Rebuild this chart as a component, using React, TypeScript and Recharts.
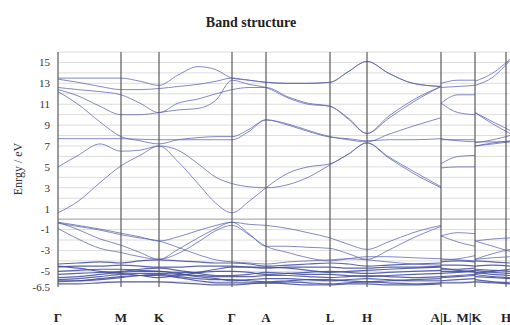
import React from 'react';
import { LineChart, Line, XAxis, YAxis, ReferenceLine } from 'recharts';

// k-path positions (arbitrary distance units along Γ-M-K-Γ-A-L-H-A|L-M|K-H)
const kPos = [0, 20, 42, 63, 82, 101, 120, 140, 158, 174, 191, 208, 230, 250, 272, 290, 309, 330, 355, 383, 383, 400, 417, 417, 435, 452];
const symPos = [0, 63, 101, 174, 208, 272, 309, 383, 417, 448];
const symLabels = ['Γ', 'M', 'K', 'Γ', 'A', 'L', 'H', 'A|L', 'M|K', 'H'];
const yTicks = [15, 13, 11, 9, 7, 5, 3, 1, -1, -3, -5, -6.5];
const gridLevels = [-6, -5, -4, -3, -2, -1, 1, 2, 3, 4, 5, 6, 7, 8, 9, 10, 11, 12, 13, 14, 15, 16];
const fermiLevel = [0];
const segments = [[0, 19], [20, 22], [23, 25]];

// conduction bands (eV)
const u1 = [0.6, 1.7, 3.5, 5.1, 6.1, 7.0, 5.5, 3.4, 1.5, 0.6, 1.7, 3.0, 4.4, 5.0, 5.3, 6.2, 7.3, 5.9, 4.4, 3.0, 4.9, 5.0, 5.0, 7.0, 7.2, 7.4];
const u2 = [5.0, 6.1, 7.2, 6.5, 6.6, 7.0, 6.6, 5.3, 4.0, 3.4, 3.1, 3.0, 3.3, 4.0, 5.2, 6.2, 7.3, 6.0, 4.6, 3.1, 5.3, 6.0, 6.1, 7.0, 7.3, 7.5];
const u3 = [7.7, 7.7, 7.7, 7.7, 7.65, 7.6, 7.6, 7.6, 7.6, 7.6, 8.4, 9.5, 9.0, 8.4, 7.85, 7.7, 7.5, 7.6, 7.6, 7.7, 7.6, 7.6, 7.6, 7.4, 7.4, 7.4];
const u4 = [12.2, 11.0, 9.3, 7.9, 7.5, 7.2, 7.6, 7.8, 7.9, 7.9, 8.6, 9.5, 9.1, 8.5, 7.9, 7.6, 7.4, 8.1, 8.9, 9.7, 7.7, 7.5, 7.4, 7.3, 7.6, 8.0];
const u5 = [12.4, 11.8, 10.8, 10.0, 10.0, 10.2, 10.45, 10.6, 11.4, 13.3, 12.9, 12.6, 11.6, 11.0, 10.8, 9.6, 8.2, 9.6, 11.2, 12.7, 11.1, 10.2, 10.0, 10.2, 9.1, 8.2];
const u6 = [12.6, 12.4, 12.2, 11.9, 11.1, 10.2, 11.1, 11.5, 12.0, 12.4, 12.6, 12.6, 11.7, 11.1, 10.8, 9.7, 8.2, 9.8, 11.4, 12.7, 11.1, 11.9, 11.9, 10.2, 9.3, 8.5];
const u7 = [13.5, 13.5, 13.5, 13.5, 13.2, 12.8, 13.8, 14.6, 14.3, 13.5, 13.3, 13.1, 13.0, 13.0, 13.1, 14.1, 15.1, 14.0, 13.0, 12.7, 13.0, 13.3, 13.3, 13.2, 14.0, 15.3];
const u8 = [13.4, 13.1, 12.7, 12.4, 12.4, 12.5, 12.7, 12.9, 13.2, 13.5, 13.3, 13.1, 13.0, 13.0, 13.1, 14.1, 15.1, 14.0, 13.0, 12.7, 12.6, 12.7, 12.8, 12.8, 13.6, 15.2];

// valence bands (eV)
const v1 = [-0.3, -0.6, -0.95, -1.35, -1.7, -2.1, -1.7, -1.1, -0.6, -0.3, -0.5, -0.6, -0.9, -1.3, -1.8, -2.4, -2.9, -2.2, -1.3, -0.6, -1.6, -1.3, -1.4, -2.1, -1.9, -1.8];
const v2 = [-0.3, -1.0, -1.9, -2.5, -3.2, -3.85, -2.9, -1.8, -0.9, -0.3, -1.4, -2.6, -2.6, -2.7, -2.8, -3.3, -3.85, -3.0, -1.8, -0.7, -1.6, -2.2, -2.6, -2.1, -2.6, -3.1];
const v3 = [-0.9, -1.9, -2.8, -3.2, -3.6, -3.85, -3.3, -2.2, -1.1, -0.6, -1.5, -2.6, -3.2, -3.7, -4.0, -3.8, -3.6, -3.6, -3.7, -3.8, -3.8, -3.9, -4.0, -3.85, -3.7, -3.6];
const v4 = [-0.4, -0.7, -1.05, -1.5, -1.8, -2.1, -2.7, -3.4, -3.9, -4.1, -4.2, -4.3, -4.1, -4.0, -3.9, -3.8, -3.9, -4.1, -4.3, -4.4, -3.9, -3.8, -3.5, -3.85, -3.3, -2.9];
const d1 = [-4.3, -4.2, -4.1, -4.2, -4.0, -3.9, -4.0, -4.1, -4.2, -4.2, -4.3, -4.5, -4.4, -4.3, -4.2, -4.3, -4.5, -4.4, -4.3, -4.2, -4.1, -4.0, -4.1, -4.0, -4.1, -4.2];
const d2 = [-4.6, -4.5, -4.5, -4.4, -4.5, -4.6, -4.6, -4.5, -4.5, -4.5, -4.6, -4.7, -4.6, -4.6, -4.6, -4.7, -4.7, -4.6, -4.6, -4.5, -4.4, -4.4, -4.5, -4.5, -4.4, -4.5];
const d3 = [-5.0, -4.9, -4.8, -4.8, -4.9, -5.0, -5.1, -5.1, -5.0, -5.0, -5.1, -5.3, -5.2, -5.1, -5.0, -5.1, -5.2, -5.1, -5.0, -4.9, -4.8, -4.8, -4.7, -4.8, -4.9, -5.0];
const d4 = [-5.6, -5.5, -5.3, -5.1, -5.0, -5.0, -5.2, -5.4, -5.5, -5.5, -5.5, -5.4, -5.4, -5.5, -5.6, -5.5, -5.4, -5.5, -5.6, -5.5, -5.2, -5.1, -5.0, -5.1, -5.3, -5.4];
const d5 = [-5.9, -5.9, -5.8, -5.6, -5.4, -5.3, -5.5, -5.7, -5.8, -5.8, -5.9, -6.0, -5.9, -5.8, -5.8, -5.9, -6.0, -5.9, -5.8, -5.7, -5.6, -5.5, -5.4, -5.5, -5.6, -5.7];
const d6 = [-6.0, -5.9, -5.7, -5.5, -5.4, -5.4, -5.6, -5.9, -6.1, -6.1, -6.1, -6.1, -6.0, -6.1, -6.2, -6.1, -6.0, -6.1, -6.2, -6.1, -5.9, -5.8, -5.7, -5.8, -6.0, -6.1];
const d7 = [-6.2, -6.2, -6.1, -6.0, -6.0, -6.0, -6.1, -6.2, -6.3, -6.3, -6.2, -6.1, -6.2, -6.3, -6.3, -6.2, -6.2, -6.3, -6.3, -6.2, -6.1, -6.1, -6.0, -6.0, -6.1, -6.2];
const d8 = [-4.5, -4.7, -5.0, -5.2, -5.4, -5.6, -5.4, -5.1, -4.8, -4.6, -4.6, -4.6, -4.7, -4.9, -5.1, -5.0, -4.9, -4.8, -4.7, -4.6, -4.7, -4.9, -5.1, -5.2, -5.0, -4.8];
const d9 = [-5.3, -5.2, -5.1, -5.0, -4.8, -4.7, -4.9, -5.2, -5.4, -5.4, -5.3, -5.1, -5.2, -5.3, -5.3, -5.4, -5.5, -5.4, -5.3, -5.2, -5.0, -5.0, -4.9, -4.9, -5.1, -5.2];
const d10 = [-5.8, -5.7, -5.5, -5.3, -5.2, -5.2, -5.3, -5.5, -5.7, -5.9, -5.8, -5.7, -5.7, -5.8, -5.9, -5.8, -5.7, -5.8, -5.9, -5.9, -5.5, -5.4, -5.3, -5.3, -5.5, -5.6];

const bandList = [u1, u2, u3, u4, u5, u6, u7, u8, v1, v2, v3, v4, d1, d2, d3, d4, d5, d6, d7, d8, d9, d10];

const BAND_COLOR = '#5a62ad';
const SERIF = '"Liberation Serif", "DejaVu Serif", serif';

const SymTick = (props: any) => {
  const { x, y, payload } = props;
  const i = symPos.indexOf(payload.value);
  const label = i >= 0 ? symLabels[i] : '';
  const dx = label === 'M|K' ? -6 : 0;
  return (
    <text x={x} y={y} dx={dx} dy={27} textAnchor="middle" fontSize={13} fontWeight="bold" fontFamily={SERIF} fill="#222">
      {label}
    </text>
  );
};

export default function App() {
  const lines: React.ReactNode[] = [];
  bandList.forEach((band, b) => {
    const dense = band[0] <= -4.2;
    segments.forEach(([s, e], si) => {
      const rows = [];
      for (let i = s; i <= e; i++) rows.push({ k: kPos[i], e: band[i] });
      lines.push(
        <Line
          key={`b${b}s${si}`}
          data={rows}
          dataKey="e"
          type="monotone"
          dot={false}
          activeDot={false}
          stroke={dense ? '#3f4a9c' : BAND_COLOR}
          strokeOpacity={dense ? 0.85 : 0.75}
          strokeWidth={dense ? 1.2 : 1}
          isAnimationActive={false}
        />
      );
    });
  });

  return (
    <div style={{ position: 'absolute', left: 0, top: 0, width: 510, height: 325, overflow: 'hidden', background: '#fff' }}>
      <div style={{ position: 'absolute', left: 0, top: 15, width: 502, textAlign: 'center', fontFamily: SERIF, fontWeight: 'bold', fontSize: 14, color: '#222', lineHeight: '16px' }}>
        Band structure
      </div>
      <div style={{ position: 'absolute', left: 18, top: 169, width: 0, height: 0 }}>
        <div style={{ position: 'absolute', transform: 'translate(-50%, -50%) rotate(-90deg)', whiteSpace: 'nowrap', fontFamily: SERIF, fontSize: 12, color: '#333' }}>
          Enrgy / eV
        </div>
      </div>
      <div style={{ position: 'absolute', left: 0, top: 0 }}>
        <LineChart width={520} height={325} margin={{ top: 52, right: 10, bottom: 8, left: 0 }}>
          <XAxis
            type="number"
            dataKey="k"
            domain={[0, 452]}
            ticks={symPos}
            interval={0}
            tick={<SymTick />}
            axisLine={false}
            tickLine={false}
            height={30}
            allowDataOverflow
          />
          <YAxis
            type="number"
            domain={[-6.5, 16]}
            ticks={yTicks}
            interval={0}
            width={58}
            axisLine={false}
            tickLine={false}
            allowDataOverflow
            tick={{ fontSize: 11, fill: '#333', fontFamily: SERIF }}
          />
          {gridLevels.map((g) => (
            <ReferenceLine key={`g${g}`} y={g} stroke="#dcdcdc" strokeWidth={1} />
          ))}
          {fermiLevel.map((g) => (
            <ReferenceLine key={`f${g}`} y={g} stroke="#9a9a9a" strokeWidth={1} />
          ))}
          {lines}
          {symPos.map((p) => (
            <ReferenceLine key={`v${p}`} x={p} stroke="#5a5a5a" strokeWidth={1.2} />
          ))}
        </LineChart>
      </div>
    </div>
  );
}
